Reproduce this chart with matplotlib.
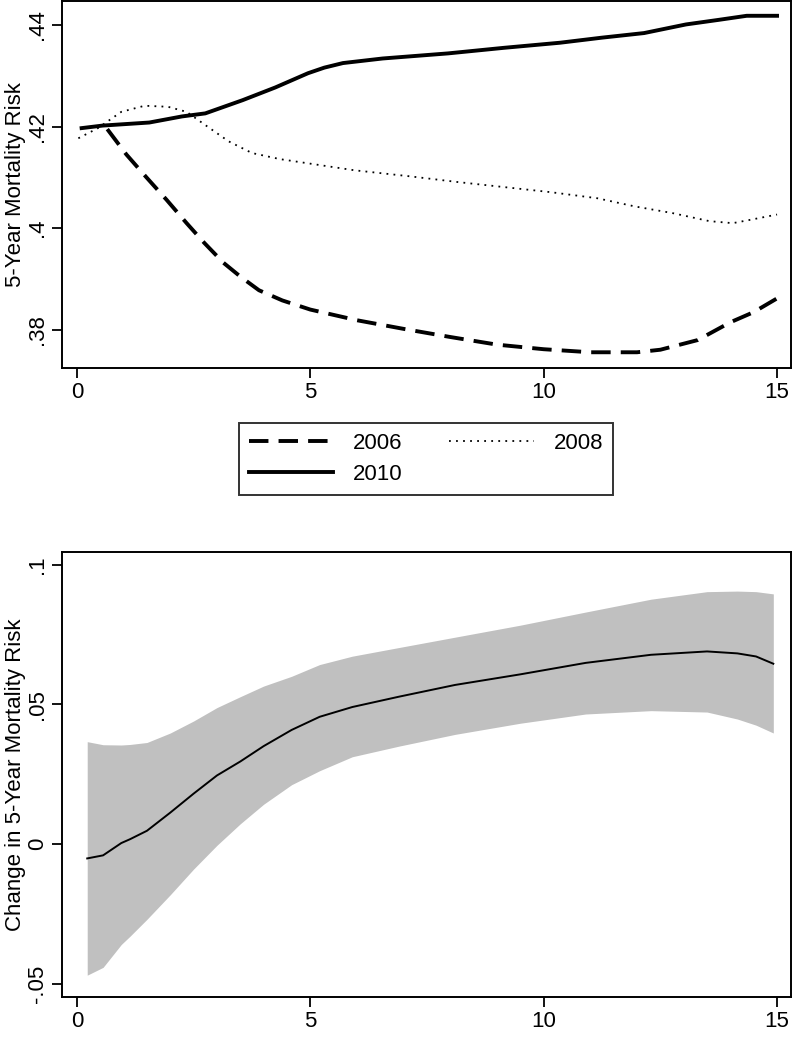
#
# Dødelighetsrisiko - to paneler (nivå per år og endring med konfidensbånd)
#

import matplotlib.pyplot as plt

plt.rcParams['font.family'] = ['Liberation Sans', 'DejaVu Sans']

#%% data lest av figuren

# øvre panel: 5-års dødelighetsrisiko per år
x_2010 = [0.1, 0.55, 1.55, 2.25, 2.75, 3.55, 4.25, 4.95, 5.3, 5.7, 6.55, 7.95, 9.15, 10.35, 11.25, 12.15, 13.05, 13.75, 14.35, 15.0]
y_2010 = [.4197, .4202, .4208, .4220, .4226, .4252, .4277, .4305, .4316, .4325, .4334, .4344, .4355, .4365, .4375, .4384, .4401, .4410, .4418, .4418]

x_2008 = [0.03, 0.45, 0.95, 1.45, 1.95, 2.35, 2.75, 3.25, 3.75, 4.35, 5.15, 5.95, 7.15, 8.15, 9.15, 10.15, 11.15, 11.95, 12.75, 13.55, 14.05, 14.45, 15.0]
y_2008 = [.4177, .4197, .4229, .4241, .4239, .4229, .4203, .4171, .4148, .4136, .4125, .4114, .4102, .4091, .4081, .4071, .4059, .4043, .4030, .4014, .4010, .4017, .4027]

x_2006 = [0.65, 1.06, 1.49, 1.92, 2.35, 2.73, 3.14, 3.5, 3.9, 4.4, 5.0, 6.0, 7.0, 8.0, 9.0, 10.0, 11.0, 12.0, 12.5, 13.3, 14.0, 14.5, 15.0]
y_2006 = [.4195, .4145, .4100, .4056, .4010, .3971, .3932, .3905, .3878, .3858, .3840, .3819, .3802, .3786, .3771, .3762, .3756, .3756, .3761, .3780, .3815, .3835, .3862]

# nedre panel: endring med konfidensintervall
x_endring = [0.22, 0.56, 0.95, 1.14, 1.5, 2.0, 2.5, 3.0, 3.5, 4.0, 4.6, 5.2, 5.9, 6.9, 8.1, 9.5, 10.9, 12.3, 13.5, 14.15, 14.55, 14.92]
endring = [-.0052, -.0041, .0003, .0017, .0047, .0112, .0180, .0245, .0295, .0350, .0408, .0455, .0490, .0527, .0569, .0607, .0648, .0677, .0689, .0682, .0671, .0645]
ki_ovre = [.0366, .0355, .0354, .0356, .0363, .0397, .0440, .0488, .0527, .0565, .0600, .0642, .0672, .0703, .0740, .0783, .0830, .0876, .0903, .0905, .0903, .0895]
ki_nedre = [-.0470, -.0442, -.0360, -.0330, -.0270, -.0182, -.0090, -.0005, .0072, .0142, .0212, .0262, .0312, .0350, .0392, .0432, .0465, .0477, .0472, .0447, .0425, .0397]

x_ticks = [0, 5, 10, 15]
x_ticklabels = ['0', '5', '10', '15']
y1_ticks = [.38, .40, .42, .44]
y1_ticklabels = ['.38', '.4', '.42', '.44']
y2_ticks = [-.05, 0, .05, .1]
y2_ticklabels = ['-.05', '0', '.05', '.1']

#%% figur

fig = plt.figure(figsize=(7.92, 10.5), dpi=100)
ax1 = fig.add_axes([0.0783, 0.6495, 0.9205, 0.3495])
ax2 = fig.add_axes([0.0783, 0.0505, 0.9205, 0.4238])


def stil_akse(ax, yticks, yticklabels, ylabel):
    # Stata-lignende akser: ramme, vertikale y-etiketter
    for s in ax.spines.values():
        s.set_linewidth(1.4)
    ax.set_xticks(x_ticks)
    ax.set_xticklabels(x_ticklabels)
    ax.set_yticks(yticks)
    ax.set_yticklabels(yticklabels, rotation=90, va='center')
    ax.tick_params(length=7, width=1.3, labelsize=16, pad=3)
    ax.set_xlim(-0.32, 15.3)
    ax.set_ylabel(ylabel, fontsize=16, labelpad=1)


l06, = ax1.plot(x_2006, y_2006, color='black', lw=2.8, linestyle=(0, (5, 2.6)), label='2006')
l08, = ax1.plot(x_2008, y_2008, color='black', lw=1.3, linestyle=(0, (1, 2.9)), label='2008')
l10, = ax1.plot(x_2010, y_2010, color='black', lw=2.8, label='2010')
stil_akse(ax1, y1_ticks, y1_ticklabels, '5-Year Mortality Risk')
ax1.set_ylim(.3725, .4447)

ax2.fill_between(x_endring, ki_nedre, ki_ovre, color='#c0c0c0', lw=0)
ax2.plot(x_endring, endring, color='black', lw=1.4)
stil_akse(ax2, y2_ticks, y2_ticklabels, 'Change in 5-Year Mortality Risk')
ax2.set_ylim(-.0548, .1045)

# legende mellom panelene
leg = fig.legend(handles=[l06, l10, l08], ncol=2, loc='center',
                 bbox_to_anchor=(0.538, 0.563), fontsize=16,
                 frameon=True, fancybox=False, edgecolor='black',
                 handlelength=3.8, handletextpad=0.9, columnspacing=2.1,
                 borderpad=0.45, labelspacing=0.45)
leg.get_frame().set_linewidth(1.4)

fig.savefig('out.png', dpi=100)
